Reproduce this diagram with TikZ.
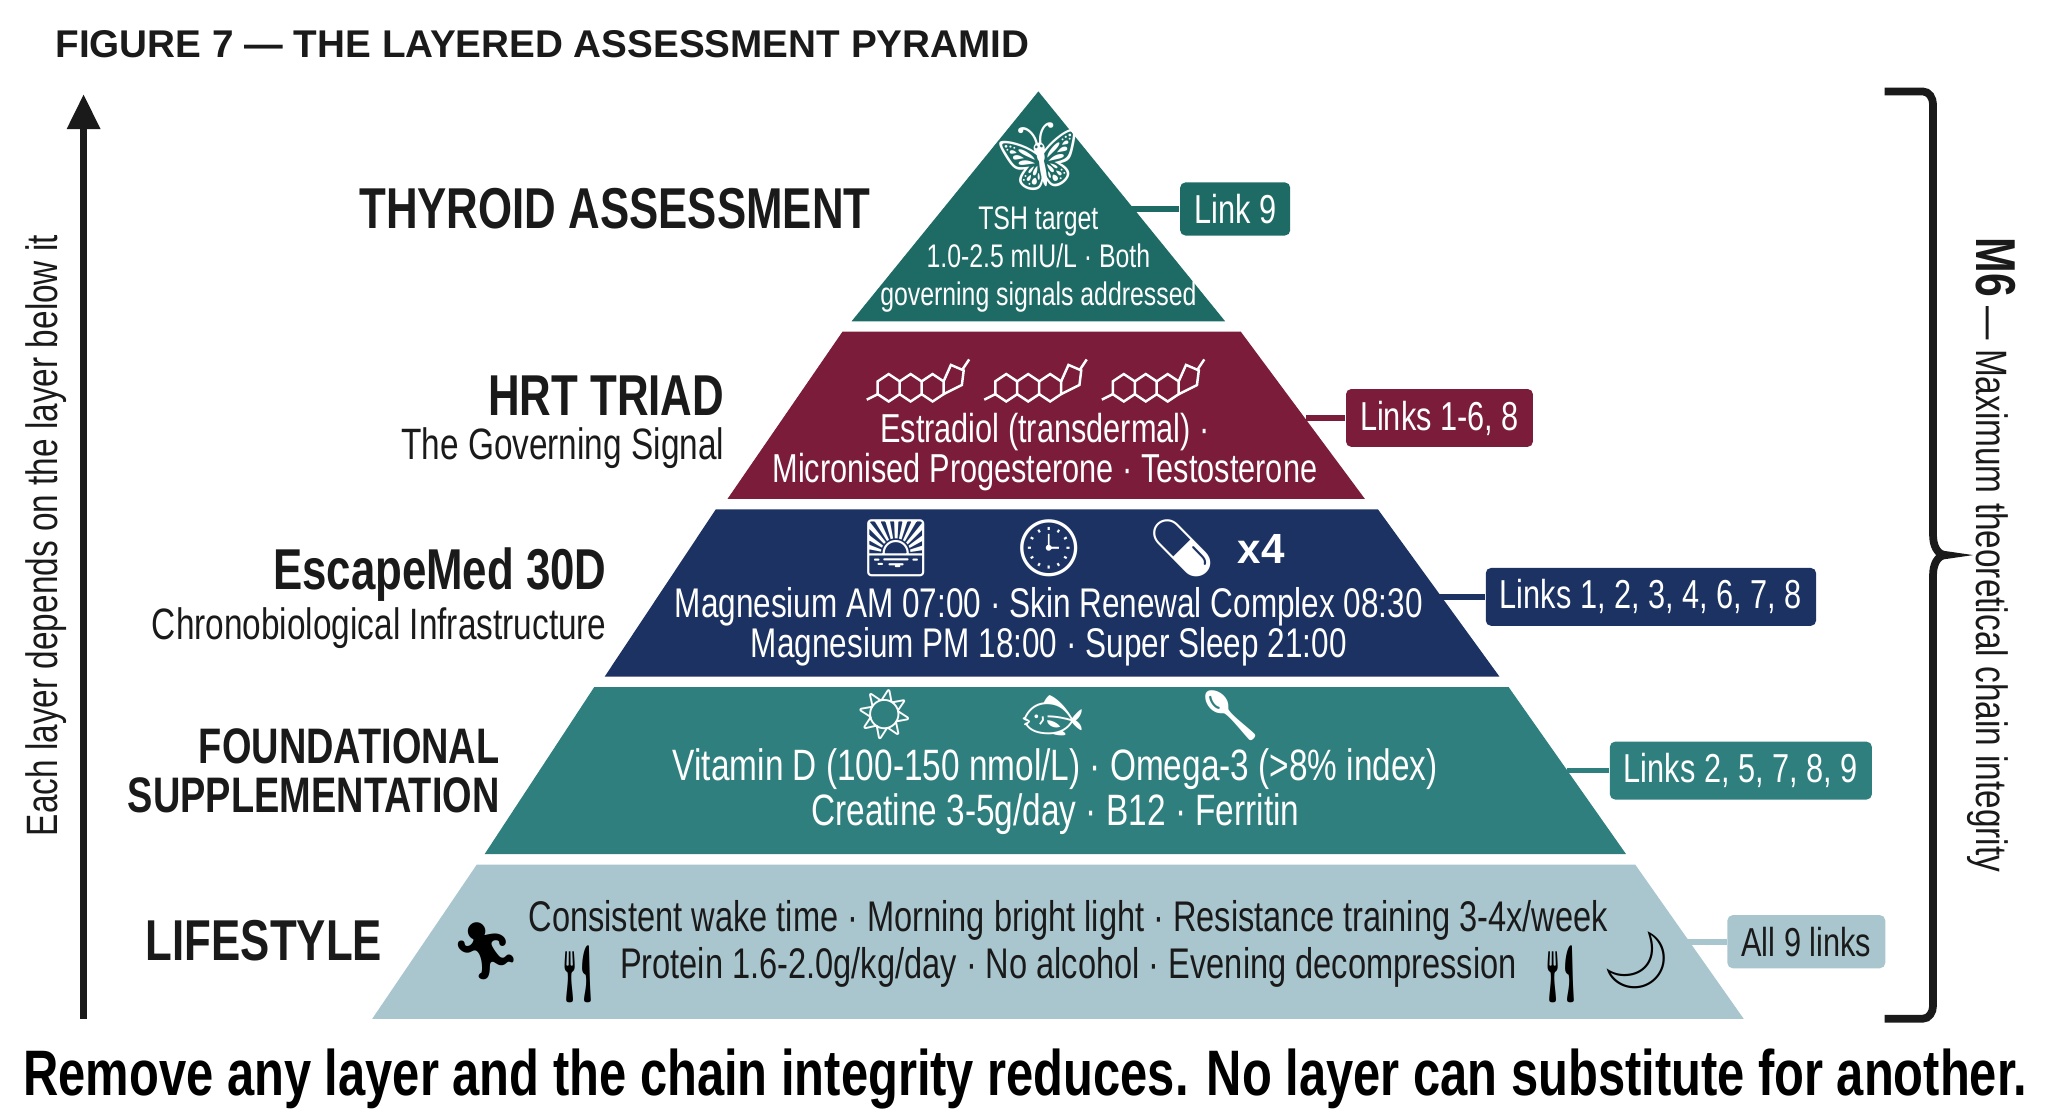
\documentclass[tikz,border=0pt]{standalone}
\usepackage{fontspec}
\setmainfont{Liberation Sans}
\newfontfamily\cond[FakeStretch=0.76]{Liberation Sans}
\newfontfamily\emo{Noto Emoji}
\usetikzlibrary{positioning,arrows.meta}
\definecolor{thyr}{HTML}{1E6B66}
\definecolor{hrt}{HTML}{7B1C3A}
\definecolor{esc}{HTML}{1C3263}
\definecolor{fnd}{HTML}{2F7F7F}
\definecolor{life}{HTML}{A9C6CF}
\definecolor{ink}{HTML}{1A1A1A}
\newcommand{\steroid}[1]{%
\begin{scope}[shift={#1},x=0.0183cm,y=-0.0183cm,white,line width=0.7pt]
\draw (0,0)--(6,-4)--(12,0)--(12,7)--(6,11)--(0,7)--cycle;
\draw (12,0)--(18,-4)--(24,0)--(24,7)--(18,11)--(12,7);
\draw (24,0)--(30,-4)--(36,0)--(36,7)--(30,11)--(24,7);
\draw (36,0)--(40,-9)--(47,-6)--(46,2)--(36,7);
\draw (46,-6)--(50,-12);
\draw (0,7)--(-6,10);
\end{scope}}
\tikzset{
  layerlab/.style={font=\cond\bfseries\fontsize{16.4}{18}\selectfont, text=ink, anchor=east, align=right, inner sep=0pt},
  sublab/.style={font=\cond\fontsize{12.5}{14}\selectfont, text=ink, anchor=east, inner sep=0pt},
  inlab/.style={font=\cond\fontsize{11.5}{13.5}\selectfont, text=white, align=center, inner sep=0pt},
  linkbox/.style={font=\cond\fontsize{11.5}{13}\selectfont, text=white, rounded corners=1.5pt, minimum height=0.52cm, inner xsep=4pt},
  linkline/.style={line width=1.6pt},
  icon/.style={font=\emo\fontsize{16}{16}\selectfont, text=white, inner sep=0pt}
}
\begin{document}
\begin{tikzpicture}[x=0.01306cm,y=-0.01306cm]
\useasboundingbox (0,0) rectangle (1568,855);
% title
\node (title) [anchor=west, font=\bfseries\fontsize{11}{12}\selectfont, text=ink] at (33,34) {FIGURE 7 — THE LAYERED ASSESSMENT PYRAMID};
% layers
\fill[thyr] (795,70) -- (938,246) -- (652,246) -- cycle;
\fill[hrt] (645,254) -- (950,254) -- (1045,382) -- (557,382) -- cycle;
\fill[esc] (548,390) -- (1055,390) -- (1148,518) -- (463,518) -- cycle;
\fill[fnd] (455,526) -- (1155,526) -- (1245,654) -- (371,654) -- cycle;
\fill[life] (365,662) -- (1252,662) -- (1335,780) -- (285,780) -- cycle;
% layer names
\node (thyname) [layerlab] at (667,160) {THYROID ASSESSMENT};
\node (hrtname) [layerlab] at (555,303) {HRT TRIAD};
\node (hrtsub) [sublab] at (555,343) {The Governing Signal};
\node (escname) [layerlab] at (465,440) {EscapeMed 30D};
\node (escsub) [sublab] at (465,481) {Chronobiological Infrastructure};
\node (fndname) [layerlab, font=\cond\bfseries\fontsize{14.2}{13.8}\selectfont] at (383,590) {FOUNDATIONAL\\SUPPLEMENTATION};
\node (lifename) [layerlab] at (293,720) {LIFESTYLE};
% layer contents
\node (thyicon) [icon, font=\emo\fontsize{19}{19}\selectfont] at (795,120) {🦋};
\node (thytext) [inlab, font=\cond\fontsize{9.3}{10.8}\selectfont] at (795,199) {TSH target\\1.0-2.5 mIU/L · Both\\governing signals addressed};
\steroid{(672,292)}
\steroid{(762,292)}
\steroid{(852,292)}
\node (hrttext) [inlab, font=\cond\fontsize{11.5}{11.5}\selectfont] at (800,346) {Estradiol (transdermal) ·\\Micronised Progesterone · Testosterone};
\node (escsun) [icon] at (686,420) {🌅};
\node (escclock) [icon] at (803,420) {🕒};
\node (escpill) [icon] at (905,420) {💊};
\node (escx4) [right=2pt of escpill, font=\bfseries\fontsize{12}{12}\selectfont, text=white] {x4};
\node (esctext) [inlab, font=\cond\fontsize{11.8}{11.5}\selectfont] at (803,480) {Magnesium AM 07:00 · Skin Renewal Complex 08:30\\Magnesium PM 18:00 · Super Sleep 21:00};
\node (fndsun) [icon, font=\emo\fontsize{14}{14}\selectfont] at (677,547) {☀};
\node (fndfish) [icon, font=\emo\fontsize{14}{14}\selectfont] at (806,548) {🐟};
\node (fndscoop) [icon, font=\emo\fontsize{14}{14}\selectfont] at (942,548) {🥄};
\node (fndtext) [inlab, font=\cond\fontsize{12.5}{12.7}\selectfont] at (808,606) {Vitamin D (100-150 nmol/L) · Omega-3 (>8\% index)\\Creatine 3-5g/day · B12 · Ferritin};
\node (liferun) [icon, text=black] at (372,728) {🏃};
\node (lifefork) [icon, text=black] at (443,746) {🍴};
\node (lifefork2) [icon, text=black] at (1195,746) {🍴};
\node (lifemoon) [icon, text=black] at (1253,735) {🌙};
\node (lifetext) [inlab, text=ink, font=\cond\fontsize{12.2}{13.4}\selectfont] at (818,723) {Consistent wake time · Morning bright light · Resistance training 3-4x/week\\Protein 1.6-2.0g/kg/day · No alcohol · Evening decompression};
% link boxes
\node (thylink) [linkbox, fill=thyr, anchor=west] at (903,160) {Link 9};
\node (hrtlink) [linkbox, fill=hrt, anchor=west] at (1030,320) {Links 1-6, 8};
\node (esclink) [linkbox, fill=esc, anchor=west] at (1137,457) {Links 1, 2, 3, 4, 6, 7, 8};
\node (fndlink) [linkbox, fill=fnd, anchor=west] at (1232,590) {Links 2, 5, 7, 8, 9};
\node (lifelink) [linkbox, fill=life, text=ink, anchor=west] at (1322,721) {All 9 links};
\coordinate (thyedge) at (866,160);
\coordinate (hrtedge) at (1000,320);
\coordinate (escedge) at (1100,457);
\coordinate (fndedge) at (1200,590);
\coordinate (lifeedge) at (1290,721);
\draw[linkline, thyr] (thyedge) -- (thylink);
\draw[linkline, hrt] (hrtedge) -- (hrtlink);
\draw[linkline, esc] (escedge) -- (esclink);
\draw[linkline, fnd] (fndedge) -- (fndlink);
\draw[linkline, life] (lifeedge) -- (lifelink);
% dependency arrow
\coordinate (arrlow) at (64,780);
\coordinate (arrtop) at (64,72);
\draw[line width=2.2pt, ink, -{Triangle[length=10pt,width=9pt]}] (arrlow) -- (arrtop);
\node (arrtext) [rotate=90, font=\cond\fontsize{12.5}{14}\selectfont, text=ink] at (35,410) {Each layer depends on the layer below it};
% brace
\coordinate (bra) at (1443,70);
\coordinate (brb) at (1443,780);
\draw[line width=2.2pt, ink] (bra) -- (1472,70) to[out=0,in=90] (1480,80) -- (1480,410) to[out=-90,in=180] (1490,425) to[out=180,in=90] (1480,440) -- (1480,770) to[out=-90,in=0] (1472,780) -- (brb);
\node (bracetext) [rotate=-90, font=\cond\fontsize{12.5}{14}\selectfont, text=ink] at (1525,425) {{\bfseries\fontsize{16}{16}\selectfont M6} — Maximum theoretical chain integrity};
% conclusion
\node (concl) [font=\cond\bfseries\fontsize{18.3}{20}\selectfont, text=black] at (785,826) {Remove any layer and the chain integrity reduces. No layer can substitute for another.};
\end{tikzpicture}
\end{document}
